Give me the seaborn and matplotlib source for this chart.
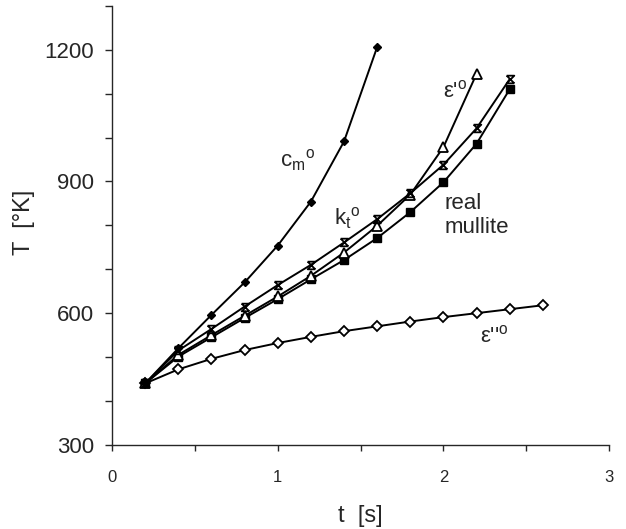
import matplotlib
matplotlib.use("Agg")
import matplotlib.pyplot as plt
from matplotlib.path import Path
import seaborn as sns
import pandas as pd

# Values
t_cm = [0.2, 0.4, 0.6, 0.8, 1.0, 1.2, 1.4, 1.6]
T_cm = [440, 520, 596, 670, 754, 854, 991, 1206]

t_kt = [0.2, 0.4, 0.6, 0.8, 1.0, 1.2, 1.4, 1.6, 1.8, 2.0, 2.2, 2.4]
T_kt = [440, 515, 564, 615, 664, 710, 761, 814, 873, 938, 1021, 1133]

t_ep = [0.2, 0.4, 0.6, 0.8, 1.0, 1.2, 1.4, 1.6, 1.8, 2.0, 2.2]
T_ep = [440, 505, 550, 594, 638, 685, 738, 799, 870, 978, 1145]

t_real = [0.2, 0.4, 0.6, 0.8, 1.0, 1.2, 1.4, 1.6, 1.8, 2.0, 2.2, 2.4]
T_real = [440, 501, 545, 589, 632, 677, 721, 771, 830, 898, 986, 1110]

t_epp = [0.2, 0.4, 0.6, 0.8, 1.0, 1.2, 1.4, 1.6, 1.8, 2.0, 2.2, 2.4, 2.6]
T_epp = [440, 472, 496, 516, 532, 546, 559, 570, 581, 591, 600, 609, 618]

x_ticks = [0, 0.5, 1, 1.5, 2, 2.5, 3]
x_labels = ["0", "", "1", "", "2", "", "3"]
y_ticks = [300, 400, 500, 600, 700, 800, 900, 1000, 1100, 1200, 1300]
y_labels = ["300", "", "", "600", "", "", "900", "", "", "1200", ""]

sns.set_style("ticks")
plt.rcParams["font.family"] = ["Liberation Sans", "DejaVu Sans"]
plt.rcParams["mathtext.fontset"] = "custom"
plt.rcParams["mathtext.rm"] = "Liberation Sans"
plt.rcParams["mathtext.it"] = "Liberation Sans"

# hourglass-like cross marker used for k_t
hourglass = Path([(-1, 1), (1, 1), (-1, -1), (1, -1), (-1, 1), (1, -1)],
                 [Path.MOVETO, Path.LINETO, Path.LINETO, Path.LINETO,
                  Path.MOVETO, Path.LINETO])

fig = plt.figure(figsize=(6.26, 5.29), dpi=100)
ax = fig.add_axes([0.179, 0.159, 0.794, 0.83])

series = [
    (t_epp, T_epp, dict(marker="D", markersize=5, mfc="white", mec="black", mew=1.3)),
    (t_real, T_real, dict(marker="s", markersize=5.5, mfc="black", mec="black", mew=1)),
    (t_ep, T_ep, dict(marker="^", markersize=6.5, mfc="white", mec="black", mew=1.3)),
    (t_kt, T_kt, dict(marker=hourglass, markersize=5.5, mfc="none", mec="black", mew=1.3)),
    (t_cm, T_cm, dict(marker="D", markersize=4.5, mfc="black", mec="black", mew=1)),
]
for tt, TT, style in series:
    df = pd.DataFrame({"t": tt, "T": TT})
    sns.lineplot(data=df, x="t", y="T", color="black", linewidth=1.4, ax=ax, **style)

ax.text(1.12, 949, r"c$_\mathregular{m}$$^\mathregular{o}$", fontsize=16, ha="center", va="center")
ax.text(1.42, 817, r"k$_\mathregular{t}$$^\mathregular{o}$", fontsize=16, ha="center", va="center")
ax.text(2.07, 1104, r"ε'$^\mathregular{o}$", fontsize=16, ha="center", va="center")
ax.text(2.006, 822, "real\nmullite", fontsize=16, ha="left", va="center", linespacing=1.15)
ax.text(2.31, 546, r"ε''$^\mathregular{o}$", fontsize=16, ha="center", va="center")

ax.set_xlim(0, 3)
ax.set_ylim(300, 1300)
ax.set_xticks(x_ticks)
ax.set_xticklabels(x_labels)
ax.set_yticks(y_ticks)
ax.set_yticklabels(y_labels)
ax.tick_params(axis="x", labelsize=12, length=4, pad=14, width=1)
ax.tick_params(axis="y", labelsize=16, length=5, pad=8, width=1)
for s in ["top", "right"]:
    ax.spines[s].set_visible(False)
for s in ["left", "bottom"]:
    ax.spines[s].set_linewidth(1)

ax.set_xlabel("t  [s]", fontsize=17)
ax.set_ylabel("T  [°K]", fontsize=17)
ax.xaxis.set_label_coords(0.50, -0.137)
ax.yaxis.set_label_coords(-0.155, 0.506)

fig.savefig("out.png", dpi=100)
